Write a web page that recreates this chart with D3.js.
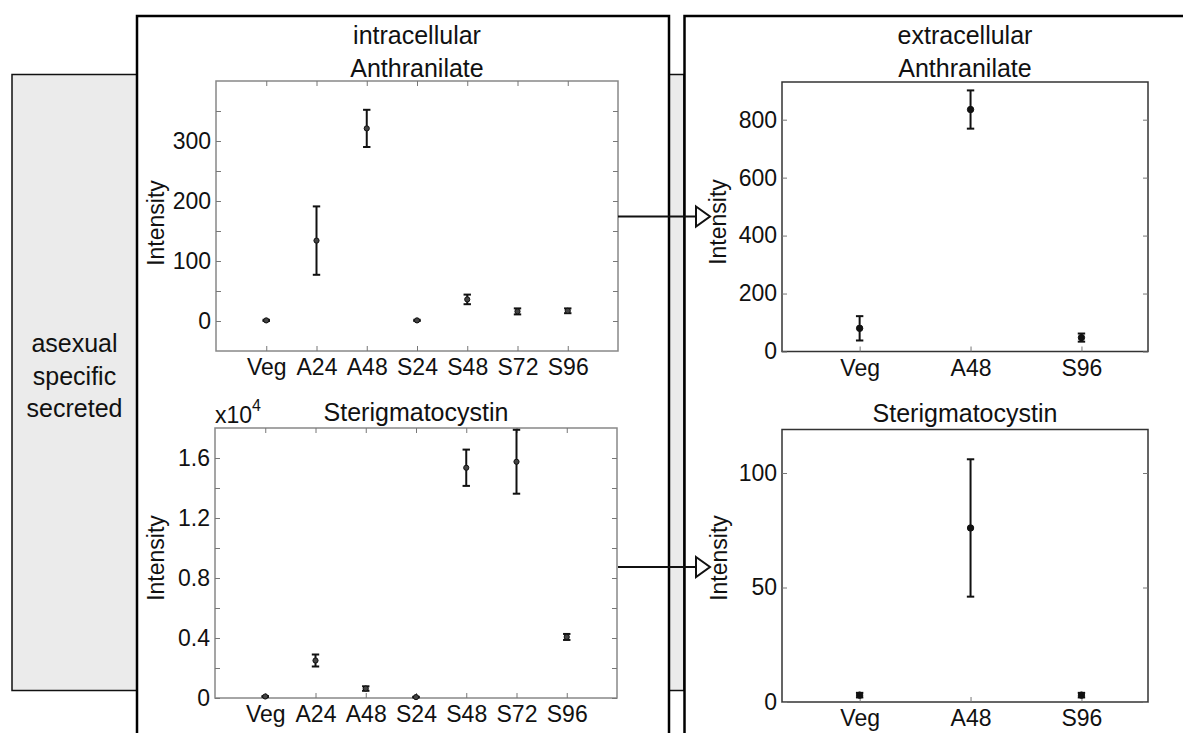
<!DOCTYPE html>
<html>
<head>
<meta charset="utf-8">
<script src="https://cdn.jsdelivr.net/npm/d3@7"></script>
<style>
  body { margin: 0; background: #fff; }
  svg { display: block; font-family: "Liberation Sans", Arial, sans-serif; }
  .axis text { font-family: "Liberation Sans", Arial, sans-serif; fill: #111; }
</style>
</head>
<body>
<svg id="fig"></svg>
<script>
// categories
const intraCats = ["Veg", "A24", "A48", "S24", "S48", "S72", "S96"];
const extraCats = ["Veg", "A48", "S96"];

// intracellular anthranilate
const intraAnthMean = [1, 134, 321, 1, 36, 16, 17];
const intraAnthErr = [1, 57, 31, 1, 8, 5, 4];
// intracellular sterigmatocystin (raw units, axis shows x10^4)
const intraSterMean = [100, 2500, 630, 60, 15350, 15750, 4070];
const intraSterErr = [30, 400, 150, 20, 1210, 2130, 200];
// extracellular anthranilate
const extraAnthMean = [80, 835, 48];
const extraAnthErr = [42, 66, 14];
// extracellular sterigmatocystin
const extraSterMean = [3, 76, 3];
const extraSterErr = [1, 30, 1];

// y ticks
const intraAnthTicks = [0, 50, 100, 150, 200, 250, 300, 350];
const intraAnthLabels = [0, 100, 200, 300];
const intraSterTicks = [0, 2000, 4000, 6000, 8000, 10000, 12000, 14000, 16000];
const intraSterLabels = [0, 4000, 8000, 12000, 16000];
const extraAnthTicks = [0, 200, 400, 600, 800];
const extraSterTicks = [0, 50, 100];

const svg = d3.select("#fig").attr("width", 1183).attr("height", 733);

// grey group box behind the panels
svg.append("rect")
  .attr("x", 12).attr("y", 74.5).attr("width", 672).attr("height", 616)
  .attr("fill", "#ebebeb").attr("stroke", "#111").attr("stroke-width", 1.5);

svg.append("text")
  .attr("x", 74.5).attr("y", 352)
  .attr("text-anchor", "middle")
  .style("font-size", "25px").attr("fill", "#111")
  .selectAll("tspan")
  .data(["asexual", "specific", "secreted"])
  .join("tspan")
  .attr("x", 74.5)
  .attr("dy", (d, i) => i == 0 ? 0 : 32.5)
  .text(d => d);

// white panels
svg.append("rect")
  .attr("x", 137).attr("y", 16).attr("width", 532).attr("height", 740)
  .attr("fill", "#fff").attr("stroke", "#000").attr("stroke-width", 2.5);
svg.append("rect")
  .attr("x", 684.5).attr("y", 16).attr("width", 520).attr("height", 740)
  .attr("fill", "#fff").attr("stroke", "#000").attr("stroke-width", 2.5);

// panel headers
svg.append("text").attr("x", 417).attr("y", 44).attr("text-anchor", "middle")
  .style("font-size", "25px").attr("fill", "#111").text("intracellular");
svg.append("text").attr("x", 965).attr("y", 44).attr("text-anchor", "middle")
  .style("font-size", "25px").attr("fill", "#111").text("extracellular");

function drawPlot(cfg) {
  const x = d3.scaleLinear().domain(cfg.xDomain).range([cfg.left, cfg.right]);
  const y = d3.scaleLinear().domain(cfg.yDomain).range([cfg.bottom, cfg.top]);
  const pos = cfg.cats.map((c, i) => i + 1);
  const g = svg.append("g");

  g.append("rect")
    .attr("x", cfg.left).attr("y", cfg.top)
    .attr("width", cfg.right - cfg.left).attr("height", cfg.bottom - cfg.top)
    .attr("fill", "#fff").attr("stroke", cfg.frame).attr("stroke-width", 1.5);

  const fmt = cfg.fmt || (d => d);
  const yl = g.append("g").attr("class", "axis")
    .attr("transform", `translate(${cfg.left},0)`)
    .call(d3.axisLeft(y).tickValues(cfg.yTicks).tickSize(-5).tickPadding(5)
      .tickFormat(d => cfg.yLabels.includes(d) ? fmt(d) : ""));
  const yr = g.append("g").attr("class", "axis")
    .attr("transform", `translate(${cfg.right},0)`)
    .call(d3.axisRight(y).tickValues(cfg.yTicks).tickSize(-5).tickFormat(""));
  const xb = g.append("g").attr("class", "axis")
    .attr("transform", `translate(0,${cfg.bottom})`)
    .call(d3.axisBottom(x).tickValues(pos).tickSize(-5).tickPadding(8)
      .tickFormat(d => cfg.cats[d - 1]));
  const axes = [yl, yr, xb];
  if (cfg.topTicks) {
    axes.push(g.append("g").attr("class", "axis")
      .attr("transform", `translate(0,${cfg.top})`)
      .call(d3.axisTop(x).tickValues(pos).tickSize(-5).tickFormat("")));
  }
  axes.forEach(a => {
    a.select(".domain").remove();
    a.selectAll("line").attr("stroke", "#777");
    a.selectAll("text").style("font-size", "23px");
  });

  // error bars
  const eb = g.append("g").attr("stroke", "#111").attr("stroke-width", 2);
  cfg.mean.forEach((m, i) => {
    const cx = x(i + 1), e = cfg.err[i];
    const y0 = y(m - e), y1 = y(m + e);
    eb.append("line").attr("x1", cx).attr("x2", cx).attr("y1", y0).attr("y2", y1);
    eb.append("line").attr("x1", cx - 3.7).attr("x2", cx + 3.7).attr("y1", y0).attr("y2", y0);
    eb.append("line").attr("x1", cx - 3.7).attr("x2", cx + 3.7).attr("y1", y1).attr("y2", y1);
  });
  g.append("g").selectAll("circle")
    .data(cfg.mean)
    .join("circle")
    .attr("cx", (d, i) => x(i + 1))
    .attr("cy", d => y(d))
    .attr("r", cfg.r)
    .attr("fill", cfg.dot)
    .attr("stroke", "#111").attr("stroke-width", 1);

  // titles and labels
  g.append("text").attr("x", (cfg.left + cfg.right) / 2).attr("y", cfg.titleY)
    .attr("text-anchor", "middle").style("font-size", "25px").attr("fill", "#111")
    .text(cfg.title);
  g.append("text")
    .attr("transform", `translate(${cfg.labelX},${cfg.labelY}) rotate(-90)`)
    .attr("text-anchor", "middle").style("font-size", "23px").attr("fill", "#111")
    .text("Intensity");
  return { x, y };
}

drawPlot({
  cats: intraCats, mean: intraAnthMean, err: intraAnthErr,
  xDomain: [0, 8], yDomain: [-50, 400],
  left: 216, right: 618, top: 81, bottom: 351,
  yTicks: intraAnthTicks, yLabels: intraAnthLabels,
  frame: "#888", topTicks: true, r: 2.6, dot: "#444",
  title: "Anthranilate", titleY: 77, labelX: 164, labelY: 223
});

drawPlot({
  cats: intraCats, mean: intraSterMean, err: intraSterErr,
  xDomain: [0, 8], yDomain: [0, 18000],
  left: 215, right: 617, top: 428, bottom: 698,
  yTicks: intraSterTicks, yLabels: intraSterLabels, fmt: d => d === 0 ? "0" : (d / 10000).toFixed(1),
  frame: "#888", topTicks: true, r: 2.6, dot: "#444",
  title: "Sterigmatocystin", titleY: 421, labelX: 164, labelY: 558
});

// x10^4 multiplier
const mult = svg.append("text").attr("x", 215).attr("y", 423).attr("fill", "#111")
  .style("font-size", "23px");
mult.append("tspan").text("x10");
mult.append("tspan").attr("dy", -12).style("font-size", "16px").text("4");

drawPlot({
  cats: extraCats, mean: extraAnthMean, err: extraAnthErr,
  xDomain: [0.3, 3.6], yDomain: [0, 930],
  left: 782, right: 1148, top: 82, bottom: 351.5,
  yTicks: extraAnthTicks, yLabels: extraAnthTicks,
  frame: "#333", topTicks: false, r: 3.2, dot: "#111",
  title: "Anthranilate", titleY: 77, labelX: 726, labelY: 222
});

drawPlot({
  cats: extraCats, mean: extraSterMean, err: extraSterErr,
  xDomain: [0.3, 3.6], yDomain: [0, 119],
  left: 782, right: 1148, top: 429.5, bottom: 702,
  yTicks: extraSterTicks, yLabels: extraSterTicks,
  frame: "#333", topTicks: false, r: 3.2, dot: "#111",
  title: "Sterigmatocystin", titleY: 422, labelX: 727, labelY: 558
});

// arrows from intracellular to extracellular panels
function arrow(y0) {
  svg.append("line").attr("x1", 618).attr("x2", 708).attr("y1", y0).attr("y2", y0)
    .attr("stroke", "#111").attr("stroke-width", 2);
  svg.append("path")
    .attr("d", `M696,${y0 - 10} L710,${y0} L696,${y0 + 10} Z`)
    .attr("fill", "#fff").attr("stroke", "#111").attr("stroke-width", 2);
}
arrow(216.5);
arrow(567);
</script>
</body>
</html>
